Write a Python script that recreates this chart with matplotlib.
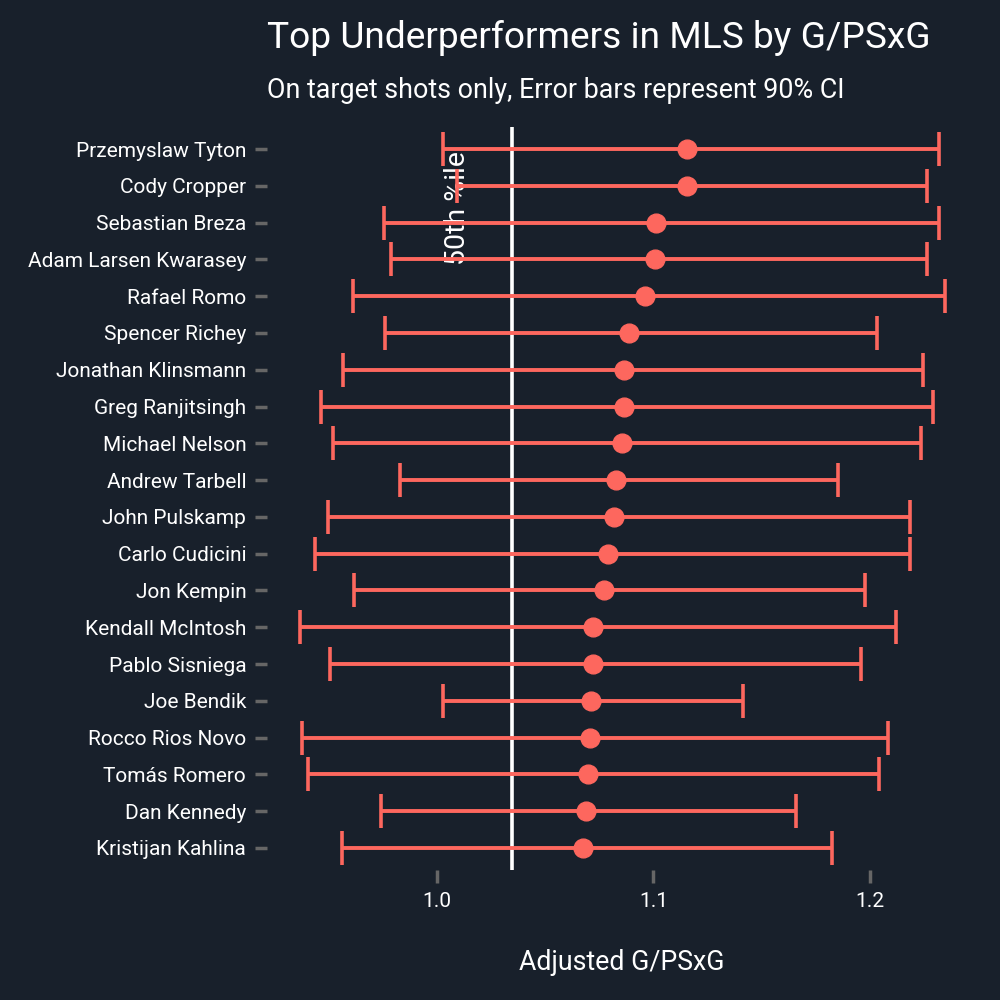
import matplotlib
matplotlib.use("Agg")
import matplotlib.pyplot as plt

players = ["Przemyslaw Tyton", "Cody Cropper", "Sebastian Breza", "Adam Larsen Kwarasey",
           "Rafael Romo", "Spencer Richey", "Jonathan Klinsmann", "Greg Ranjitsingh",
           "Michael Nelson", "Andrew Tarbell", "John Pulskamp", "Carlo Cudicini",
           "Jon Kempin", "Kendall McIntosh", "Pablo Sisniega", "Joe Bendik",
           "Rocco Rios Novo", "Tomás Romero", "Dan Kennedy", "Kristijan Kahlina"]
estimate = [1.1157, 1.1157, 1.1014, 1.1009, 1.0959, 1.0889, 1.0866, 1.0862, 1.0857, 1.0825,
            1.0816, 1.0788, 1.0774, 1.0719, 1.0719, 1.0714, 1.0705, 1.0700, 1.0687, 1.0673]
lower = [1.0028, 1.0092, 0.9756, 0.9788, 0.9613, 0.9760, 0.9567, 0.9465, 0.9520, 0.9830,
         0.9498, 0.9438, 0.9618, 0.9369, 0.9507, 1.0028, 0.9378, 0.9406, 0.9742, 0.9562]
upper = [1.2318, 1.2263, 1.2318, 1.2263, 1.2346, 1.2032, 1.2244, 1.2290, 1.2235, 1.1853,
         1.2184, 1.2184, 1.1977, 1.2120, 1.1959, 1.1415, 1.2083, 1.2041, 1.1659, 1.1825]
median_line = 1.0346
xticks = [1.0, 1.1, 1.2]

bg = "#18202b"
red = "#fd675e"
plt.rcParams['font.family'] = ['Roboto', 'DejaVu Sans']

fig = plt.figure(figsize=(10, 10), dpi=100, facecolor=bg)
ax = fig.add_axes([0.267, 0.13, 0.71, 0.743])
ax.set_facecolor(bg)

n = len(players)
ypos = [n - i for i in range(n)]

ax.text(1.0097, 18.40, "50th %ile", rotation=90, color="white", fontsize=20.5,
        ha="center", va="center", zorder=1)
ax.axvline(median_line, color="white", lw=2.6, zorder=2)
xerr = [[e - l for e, l in zip(estimate, lower)], [u - e for e, u in zip(estimate, upper)]]
ax.errorbar(estimate, ypos, xerr=xerr, fmt="o", color=red, ecolor=red, elinewidth=2.8,
            capsize=12, capthick=2.6, markersize=13.5, zorder=3)

ax.set_xlim(0.92166, 1.24931)
ax.set_ylim(0.4, n + 0.6)
ax.set_yticks(ypos)
ax.set_yticklabels(players)
ax.set_xticks(xticks)
ax.set_xticklabels([f"{t:.1f}" for t in xticks])
for s in ax.spines.values():
    s.set_visible(False)
ax.tick_params(axis="both", colors="#666666", width=2.5, length=9, labelcolor="white",
               labelsize=15)
ax.tick_params(axis="y", pad=6)
ax.tick_params(axis="x", pad=7)
ax.set_xlabel("Adjusted G/PSxG", color="white", fontsize=19.3, labelpad=27)

fig.text(0.267, 0.962, "Top Underperformers in MLS by G/PSxG", color="white",
         fontsize=26.7, ha="left", va="center")
fig.text(0.267, 0.909, "On target shots only, Error bars represent 90% CI", color="white",
         fontsize=19.4, ha="left", va="center")

fig.savefig("out.png", dpi=100, facecolor=bg)
